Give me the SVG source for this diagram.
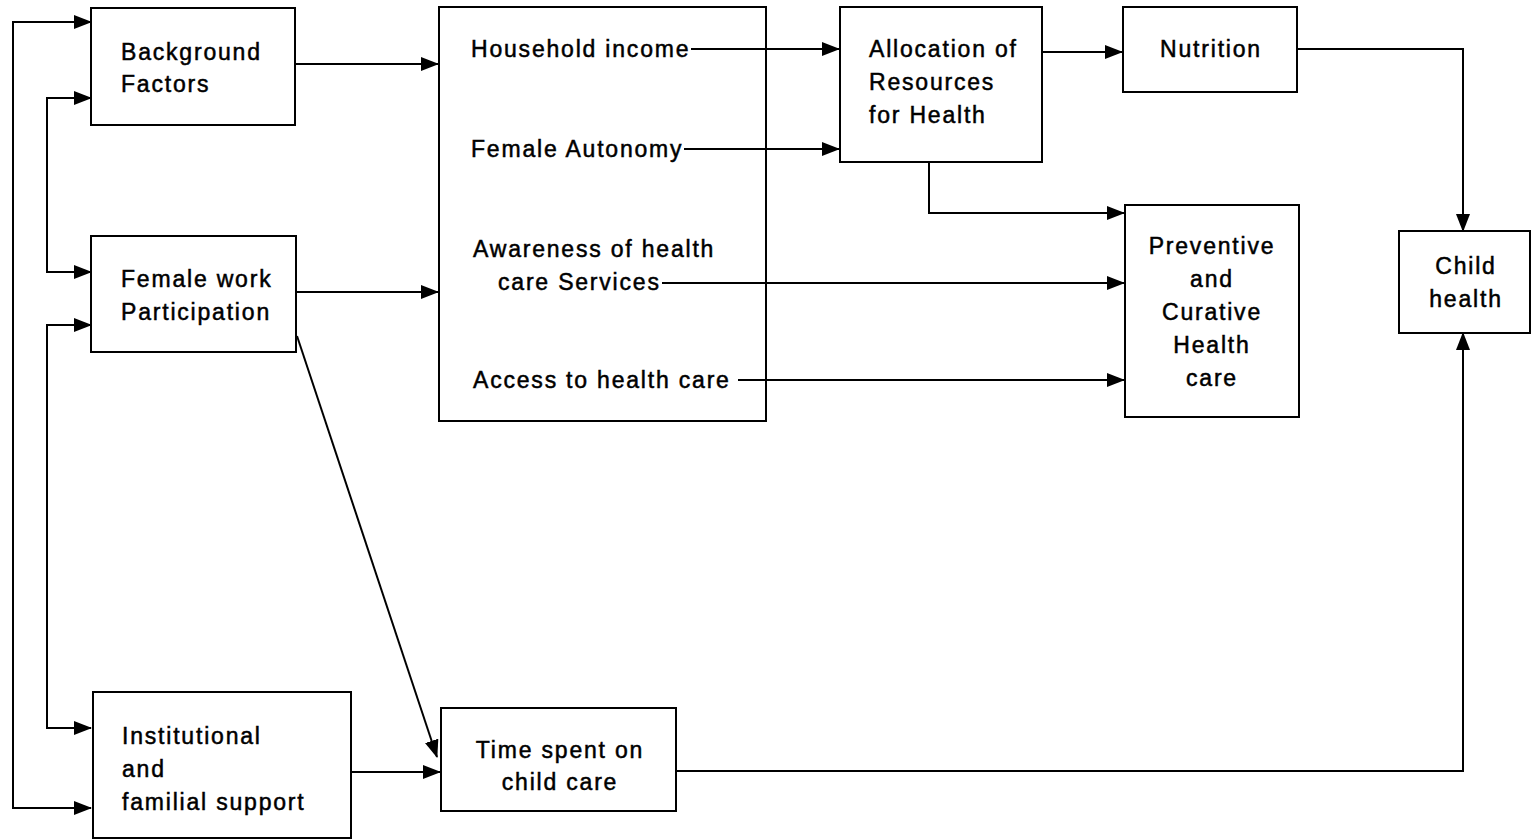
<svg xmlns="http://www.w3.org/2000/svg" width="1534" height="839" viewBox="0 0 1534 839">
<style>
.box{fill:none;stroke:#000;stroke-width:2}
.t{font-family:"Liberation Sans",Arial,sans-serif;font-size:23px;letter-spacing:1.8px;fill:#000;stroke:#000;stroke-width:0.5}
.c{text-anchor:middle}
.ln{fill:none;stroke:#000;stroke-width:2;marker-end:url(#ah)}
</style>
<defs>
<marker id="ah" markerUnits="userSpaceOnUse" markerWidth="18" markerHeight="14" refX="17" refY="7" orient="auto-start-reverse">
<path d="M0 0 L18 7 L0 14 Z" fill="#000"/>
</marker>
</defs>
<rect width="1534" height="839" fill="#fff"/>
<g id="connectors">
<path class="ln" d="M91 22 H13 V808 H91" marker-start="url(#ah)"/>
<path class="ln" d="M91 98 H47 V272 H91" marker-start="url(#ah)"/>
<path class="ln" d="M91 325 H47 V728 H91" marker-start="url(#ah)"/>
<path class="ln" d="M295 64 H438"/>
<path class="ln" d="M296 292 H438"/>
<path class="ln" d="M297 336 L437 757"/>
<path class="ln" d="M351 772 H440"/>
<path class="ln" d="M691 49 H839"/>
<path class="ln" d="M684 149 H839"/>
<path class="ln" d="M662 283 H1124"/>
<path class="ln" d="M738 380 H1124"/>
<path class="ln" d="M929 162 V213 H1124"/>
<path class="ln" d="M1042 52 H1122"/>
<path class="ln" d="M1297 49 H1463 V231"/>
<path class="ln" d="M676 771 H1463 V333"/>
</g>
<g id="background">
<rect class="box" x="91" y="8" width="204" height="117"/>
<text class="t" x="121" y="60">Background</text>
<text class="t" x="121" y="92">Factors</text>
</g>
<g id="female-work">
<rect class="box" x="91" y="236" width="205" height="116"/>
<text class="t" x="121" y="287">Female work</text>
<text class="t" x="121" y="320">Participation</text>
</g>
<g id="institutional">
<rect class="box" x="93" y="692" width="258" height="146"/>
<text class="t" x="122" y="744">Institutional</text>
<text class="t" x="122" y="777">and</text>
<text class="t" x="122" y="810">familial support</text>
</g>
<g id="intermediate">
<rect class="box" x="439" y="7" width="327" height="414"/>
<text class="t" x="471" y="57">Household income</text>
<text class="t" x="471" y="157">Female Autonomy</text>
<text class="t" x="473" y="257">Awareness of health</text>
<text class="t" x="498" y="290">care Services</text>
<text class="t" x="473" y="388">Access to health care</text>
</g>
<g id="allocation">
<rect class="box" x="840" y="7" width="202" height="155"/>
<text class="t" x="869" y="57">Allocation of</text>
<text class="t" x="869" y="90">Resources</text>
<text class="t" x="869" y="123">for Health</text>
</g>
<g id="nutrition">
<rect class="box" x="1123" y="7" width="174" height="85"/>
<text class="t c" x="1211" y="57">Nutrition</text>
</g>
<g id="preventive">
<rect class="box" x="1125" y="205" width="174" height="212"/>
<text class="t c" x="1212" y="254">Preventive</text>
<text class="t c" x="1212" y="287">and</text>
<text class="t c" x="1212" y="320">Curative</text>
<text class="t c" x="1212" y="353">Health</text>
<text class="t c" x="1212" y="386">care</text>
</g>
<g id="child-health">
<rect class="box" x="1399" y="231" width="131" height="102"/>
<text class="t c" x="1466" y="274">Child</text>
<text class="t c" x="1466" y="307">health</text>
</g>
<g id="time-spent">
<rect class="box" x="441" y="708" width="235" height="103"/>
<text class="t c" x="560" y="758">Time spent on</text>
<text class="t c" x="560" y="790">child care</text>
</g>
</svg>
